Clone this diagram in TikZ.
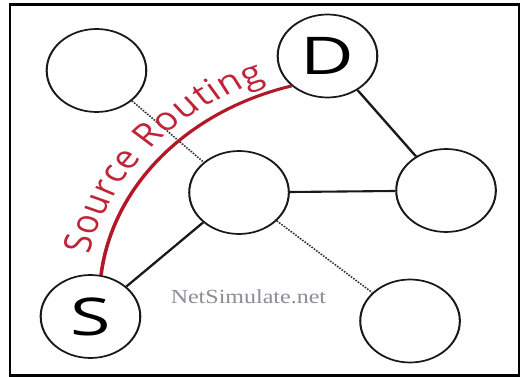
\documentclass[tikz,border=0pt]{standalone}
\usepackage{fontspec}
\setmainfont{Liberation Serif}
\newfontfamily\labelfont{Open Sans}
\usetikzlibrary{decorations.text}
\definecolor{routered}{RGB}{178,24,40}
\definecolor{routetext}{RGB}{190,38,56}
\definecolor{markgray}{RGB}{140,140,150}
\newcommand\routefont{\labelfont\fontsize{32}{32}\selectfont}
\newcommand\hostletter[1]{\scalebox{1.18}[1]{#1}}
\tikzset{
  host/.style={circle, draw=black!90, line width=1.7pt, minimum size=83pt,
    inner sep=0pt, font=\labelfont\fontsize{52}{52}\selectfont},
  link/.style={draw=black!90, line width=2.1pt},
  weak/.style={draw=black!80, line width=1.5pt, dash pattern=on 1.4pt off 1.2pt},
  route/.style={draw=routered, line width=3pt},
  frame/.style={draw=black, line width=2.6pt},
}
\begin{document}
\begin{tikzpicture}[x=1pt,y=1pt]
\useasboundingbox (0,0) rectangle (525,377);
\draw[frame] (10,1.6) rectangle (519,372.3);
\begin{scope}[transform canvas={xscale=1.2}]
  % hosts
  \node[host] (tl) at (80.4,306.5) {};
  \node[host] (d)  at (272.9,321)  {\hostletter{D}};
  \node[host] (c)  at (199.2,184.5) {};
  \node[host] (r)  at (371.7,186.5) {};
  \node[host] (s)  at (75.4,60.5)  {\hostletter{S}};
  \node[host] (br) at (341.7,56)   {};
  % links
  \draw[weak] (tl) -- (c);
  \draw[weak] (c) -- (br);
  \draw[link] (d) -- (r);
  \draw[link] (c) -- (r);
  \draw[link] (c) -- (s);
  % source route from S to D
  \draw[route] (s.78) to[out=84,in=196,looseness=0.93] (d.225);
  \path[decorate, decoration={text along path, text align=center, raise=12pt,
      text color=routetext, text={|\routefont|Source Routing}}]
    (s.78) to[out=84,in=196,looseness=0.93] (d.225);
  % watermark
  \node[font=\fontsize{20}{20}\selectfont, text=markgray] (mark) at (207,80) {NetSimulate.net};
\end{scope}
\end{tikzpicture}
\end{document}
